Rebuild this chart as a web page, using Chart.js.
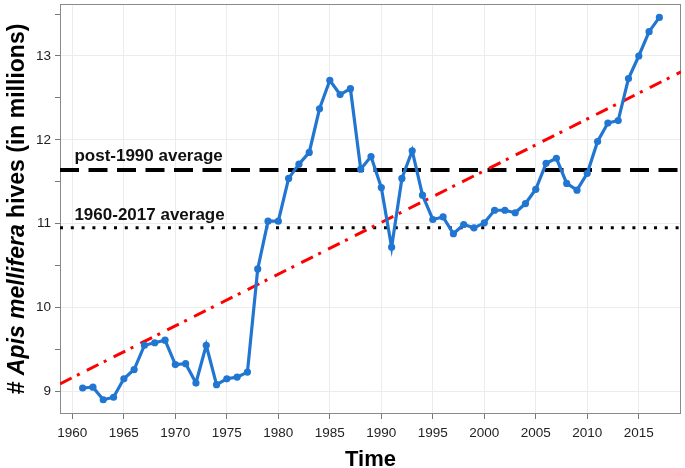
<!DOCTYPE html>
<html>
<head>
<meta charset="utf-8">
<script src="https://cdn.jsdelivr.net/npm/chart.js@4.4.1/dist/chart.umd.min.js"></script>
<style>
html,body{margin:0;padding:0;background:#fff;}
#wrap{width:685px;height:468px;position:relative;}
</style>
</head>
<body>
<div id="wrap"><canvas id="c" width="685" height="468"></canvas></div>
<script>
// ---- data ----
const years = [1961,1962,1963,1964,1965,1966,1967,1968,1969,1970,
  1971,1972,1973,1974,1975,1976,1977,1978,1979,1980,
  1981,1982,1983,1984,1985,1986,1987,1988,1989,1990,
  1991,1992,1993,1994,1995,1996,1997,1998,1999,2000,
  2001,2002,2003,2004,2005,2006,2007,2008,2009,2010,
  2011,2012,2013,2014,2015,2016,2017];
const hives = [9.04,9.05,8.90,8.93,9.15,9.26,9.55,9.58,9.61,9.32,
  9.33,9.10,9.55,9.08,9.15,9.17,9.23,10.46,11.03,11.03,
  11.54,11.71,11.85,12.37,12.71,12.54,12.61,11.65,11.80,11.43,
  10.72,11.54,11.87,11.34,11.05,11.08,10.88,10.99,10.95,11.01,
  11.16,11.16,11.13,11.24,11.41,11.72,11.78,11.48,11.40,11.60,
  11.98,12.20,12.23,12.73,13.00,13.29,13.46];
const post1990Average = 11.64;
const overallAverage = 10.95;
const trendYears = [1958.8, 2019.1];
const trendValues = [9.09, 12.81];
const xRange = [1958.8, 2019.1];
const yRange = [8.73, 13.62];
const avgLabels = ["post-1990 average", "1960-2017 average"];
const xTitle = "Time";
const yTitleParts = [["# ", false], ["Apis mellifera", true], [" hives (in millions)", false]];

const FONT = "'Liberation Sans', Arial, Helvetica, sans-serif";

const series = years.map((y, i) => ({x: y, y: hives[i]}));
const trend = trendYears.map((y, i) => ({x: y, y: trendValues[i]}));
const postLine = xRange.map(x => ({x: x, y: post1990Average}));
const allLine = xRange.map(x => ({x: x, y: overallAverage}));

const decor = {
  id: 'decor',
  beforeDatasetsDraw(chart) {
    const {ctx, chartArea: a} = chart;
    ctx.save();
    ctx.strokeStyle = '#8a8a8a';
    ctx.lineWidth = 1;
    ctx.strokeRect(a.left + 0.5, a.top + 0.5, a.right - a.left - 1, a.bottom - a.top - 1);
    ctx.restore();
  },
  afterDraw(chart) {
    const {ctx, chartArea: a, scales} = chart;
    const xs = scales.x, ys = scales.y;
    ctx.save();
    // average labels
    ctx.fillStyle = '#111';
    ctx.font = "bold 17px " + FONT;
    ctx.textAlign = 'left';
    ctx.textBaseline = 'alphabetic';
    const lx = xs.getPixelForValue(1960.2);
    ctx.fillText(avgLabels[0], lx, ys.getPixelForValue(post1990Average) - 9);
    ctx.fillText(avgLabels[1], lx, ys.getPixelForValue(overallAverage) - 8);
    // x title
    ctx.fillStyle = '#000';
    ctx.font = "bold 22px " + FONT;
    ctx.textAlign = 'center';
    ctx.fillText(xTitle, (a.left + a.right) / 2, 466);
    // y title (mixed italic)
    ctx.translate(24, (a.top + a.bottom) / 2);
    ctx.rotate(-Math.PI / 2);
    const fonts = yTitleParts.map(p => (p[1] ? "italic bold 23px " : "bold 23px ") + FONT);
    let total = 0;
    const widths = yTitleParts.map((p, i) => { ctx.font = fonts[i]; const w = ctx.measureText(p[0]).width; total += w; return w; });
    let x = -total / 2;
    ctx.textAlign = 'left';
    yTitleParts.forEach((p, i) => { ctx.font = fonts[i]; ctx.fillText(p[0], x, 0); x += widths[i]; });
    ctx.restore();
  }
};

new Chart(document.getElementById('c'), {
  type: 'line',
  data: {
    datasets: [
      {data: postLine, borderColor: '#000', borderWidth: 4, borderDash: [19, 9.5], pointRadius: 0, order: 3},
      {data: allLine, borderColor: '#000', borderWidth: 3, borderDash: [3, 7.8], pointRadius: 0, order: 4},
      {data: trend, borderColor: '#ff0000', borderWidth: 3, borderDash: [13, 6, 3, 8], pointRadius: 0, order: 2},
      {data: series, borderColor: '#2176d2', backgroundColor: '#2176d2', borderWidth: 3.2,
       pointRadius: 3.6, pointBackgroundColor: '#2176d2', pointBorderWidth: 0, tension: 0, order: 1}
    ]
  },
  options: {
    responsive: false,
    animation: false,
    devicePixelRatio: 1,
    layout: {padding: {top: 2, right: 2, left: 0, bottom: 0}},
    plugins: {legend: {display: false}, tooltip: {enabled: false}},
    scales: {
      x: {
        type: 'linear', min: xRange[0], max: xRange[1],
        afterFit(s) { s.height = 54; s.paddingLeft = 0; s.paddingRight = 0; },
        border: {display: false},
        grid: {color: '#ececec', lineWidth: 1, tickColor: '#777', tickLength: 5, drawOnChartArea: true},
        ticks: {stepSize: 5, includeBounds: false, autoSkip: false, maxRotation: 0, padding: 6,
          color: '#222', font: {family: FONT, size: 13.5},
          callback: v => String(v)}
      },
      y: {
        type: 'linear', min: yRange[0], max: yRange[1],
        afterFit(s) { s.width = 60; s.paddingTop = 0; s.paddingBottom = 0; },
        border: {display: false},
        grid: {color: c => Number.isInteger(c.tick.value) ? '#ececec' : 'rgba(0,0,0,0)',
               lineWidth: 1, tickColor: '#777', tickLength: 5},
        ticks: {stepSize: 0.5, includeBounds: false, autoSkip: false, padding: 4,
          color: '#222', font: {family: FONT, size: 13.5},
          callback: v => Number.isInteger(v) ? String(v) : ''}
      }
    }
  },
  plugins: [decor]
});
</script>
</body>
</html>
